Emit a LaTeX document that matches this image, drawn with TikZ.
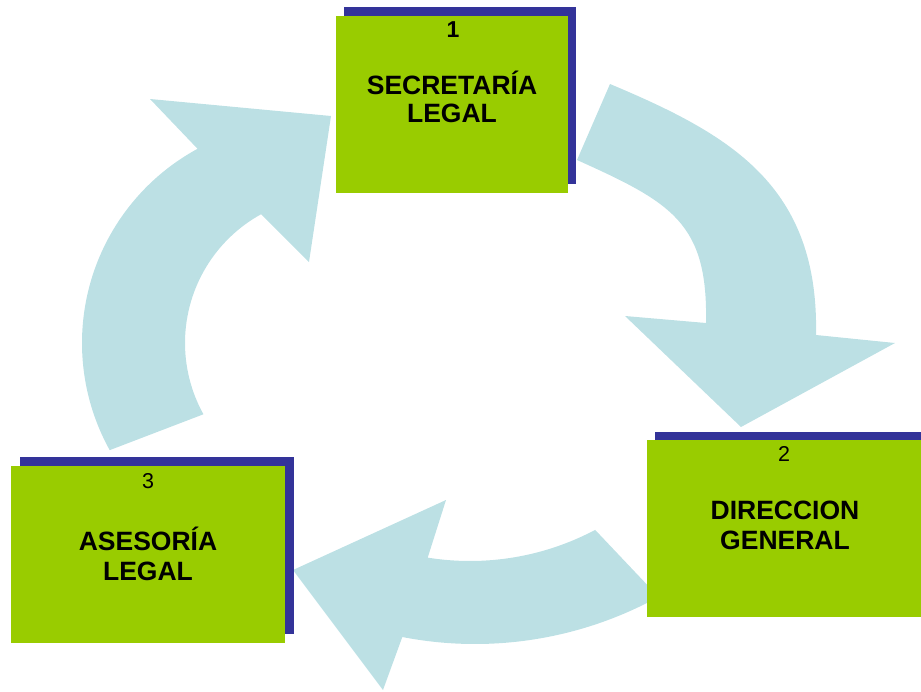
\documentclass[tikz,border=0pt]{standalone}
\usepackage{fontspec}
\setmainfont{Liberation Sans}
\usetikzlibrary{calc}
\definecolor{arrowc}{RGB}{188,224,228}
\definecolor{boxc}{RGB}{153,204,0}
\definecolor{shadc}{RGB}{51,51,153}
\tikzset{
  greenbox/.style={fill=boxc, draw=none, inner sep=0pt, outer sep=0pt, minimum height=177pt},
  shadowfill/.style={fill=shadc},
  cyclearrow/.style={fill=arrowc},
  titletext/.style={anchor=base, inner sep=0pt, font=\bfseries\fontsize{26.5}{30}\selectfont},
  numtext/.style={anchor=base, inner sep=0pt, font=\fontsize{21.5}{25}\selectfont},
}
\begin{document}
\begin{tikzpicture}[x=1pt,y=-1pt]
\useasboundingbox (0,0) rectangle (921,691);
\clip (0,0) rectangle (921,691);
% arrows
\fill[cyclearrow] (610,84) .. controls (730,134.4) and (819,185) .. (816,335)
  -- (895,343) -- (741,427) -- (625,316)
  -- (706,323) .. controls (708,223) and (672,202.75) .. (577,160) -- cycle;
\fill[cyclearrow] ($(470,293.5)+(62.1:267.5)$) arc[start angle=62.1, end angle=99.1, radius=267.5]
  -- (446,500) -- (293,570) -- (383,690)
  -- ($(475,263)+(101:381)$) arc[start angle=101, end angle=61.2, radius=381] -- cycle;
\fill[cyclearrow] ($(303,343)+(151:221)$) arc[start angle=151, end angle=241.5, radius=221]
  -- (150,99) -- (331,116) -- (309,262)
  -- ($(332,343)+(241.2:147)$) arc[start angle=241.2, end angle=151, radius=147] -- cycle;
% shadows
\fill[shadowfill] (343.5,6.5) rectangle (575.5,183.5);
\fill[shadowfill] (655,432) rectangle (930,609);
\fill[shadowfill] (19.5,456.5) rectangle (293.5,633.5);
% boxes
\node[greenbox, minimum width=232pt] (box1) at (452,104.5) {};
\node[greenbox, minimum width=274pt] (box2) at (784,528.5) {};
\node[greenbox, minimum width=274pt] (box3) at (148,554.5) {};
% texts
\node[numtext, font=\bfseries\fontsize{23}{26}\selectfont] (n1) at (453,37) {1};
\node[titletext] (t1a) at (452,94) {SECRETARÍA};
\node[titletext] (t1b) at (452,122.5) {LEGAL};
\node[numtext] (n2) at (784,461.7) {2};
\node[titletext] (t2a) at (785,519.3) {DIRECCION};
\node[titletext] (t2b) at (785,549) {GENERAL};
\node[numtext] (n3) at (148,488) {3};
\node[titletext] (t3a) at (148,550) {ASESORÍA};
\node[titletext] (t3b) at (148,580) {LEGAL};
\end{tikzpicture}
\end{document}
